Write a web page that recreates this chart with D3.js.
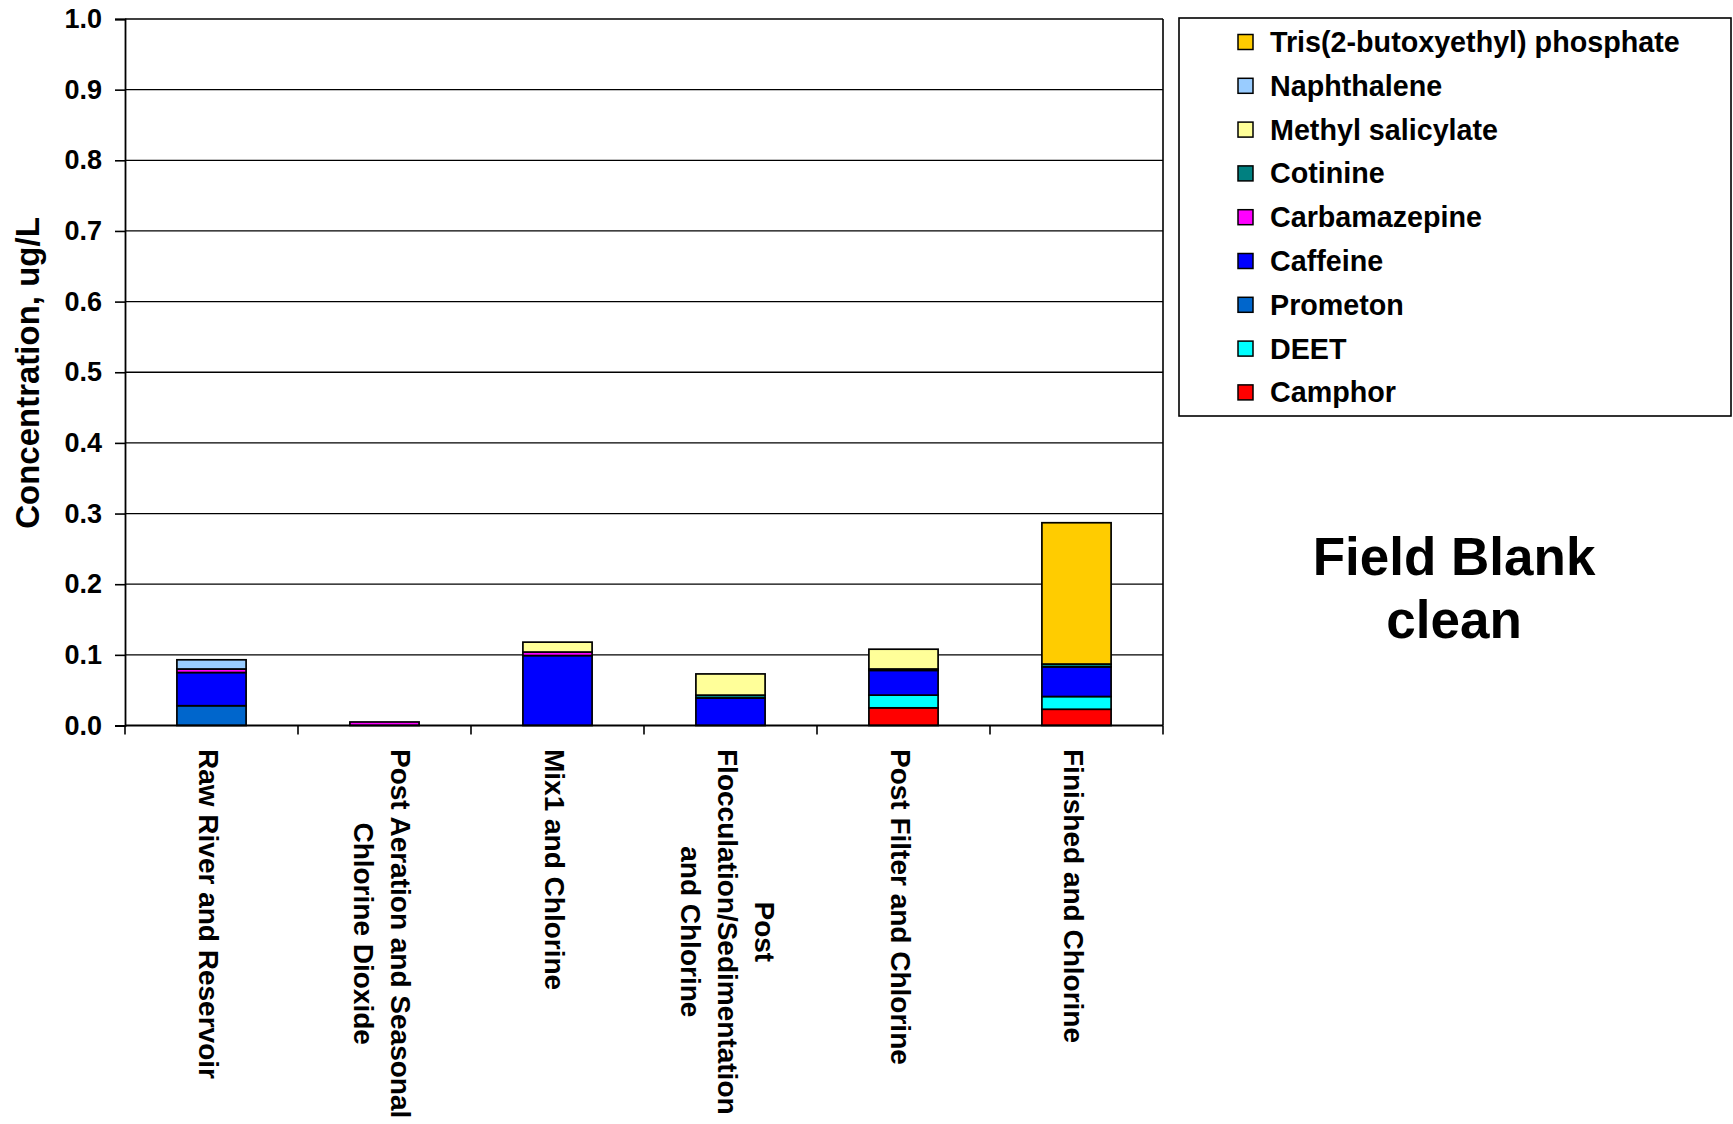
<!DOCTYPE html>
<html>
<head>
<meta charset="utf-8">
<script src="https://d3js.org/d3.v7.min.js"></script>
<style>
  html, body { margin: 0; padding: 0; background: #fff; }
  svg { display: block; font-family: "Liberation Sans", Arial, Helvetica, sans-serif; font-weight: bold; }
</style>
</head>
<body>
<svg id="chart" width="1733" height="1124"></svg>
<script>
// Treatment stages (x categories); each label is split into its wrapped lines
const categories = [
  ["Raw River and Reservoir"],
  ["Post Aeration and Seasonal", "Chlorine Dioxide"],
  ["Mix1 and Chlorine"],
  ["Post", "Flocculation/Sedimentation", "and Chlorine"],
  ["Post Filter and Chlorine"],
  ["Finished and Chlorine"]
];

// Concentrations (ug/L) per compound, one value per stage, stacked bottom to top
const camphor          = [0,     0,     0,     0,     0.025, 0.023];
const deet             = [0,     0,     0,     0,     0.018, 0.018];
const prometon         = [0.028, 0,     0,     0,     0,     0];
const caffeine         = [0.047, 0,     0.099, 0.039, 0.035, 0.042];
const carbamazepine    = [0.005, 0.005, 0.005, 0,     0,     0];
const cotinine         = [0,     0,     0,     0.004, 0.002, 0.004];
const methylSalicylate = [0,     0,     0.014, 0.030, 0.028, 0];
const naphthalene      = [0.013, 0,     0,     0,     0,     0];
const tris             = [0,     0,     0,     0,     0,     0.200];

const seriesNames  = ["Camphor", "DEET", "Prometon", "Caffeine", "Carbamazepine",
                      "Cotinine", "Methyl salicylate", "Naphthalene", "Tris(2-butoxyethyl) phosphate"];
const seriesValues = [camphor, deet, prometon, caffeine, carbamazepine,
                      cotinine, methylSalicylate, naphthalene, tris];
const seriesColors = ["#FF0000", "#00FFFF", "#0066CC", "#0000FF", "#FF00FF",
                      "#008080", "#FFFF99", "#99CCFF", "#FFCC00"];

const yTicks = [0, 0.1, 0.2, 0.3, 0.4, 0.5, 0.6, 0.7, 0.8, 0.9, 1.0];
const yTitle = "Concentration, ug/L";
const note = ["Field Blank", "clean"];

// ---- layout ----
const svg = d3.select("#chart");
const plot = { left: 125, right: 1163, top: 19, bottom: 725.5 };

const x = d3.scaleBand()
  .domain(d3.range(categories.length))
  .range([plot.left, plot.right])
  .paddingInner(0.6)
  .paddingOuter(0.3);

const y = d3.scaleLinear().domain([0, 1]).range([plot.bottom, plot.top]);

// table of rows for d3.stack
const rows = categories.map((c, i) => {
  const r = { idx: i };
  seriesNames.forEach((n, k) => { r[n] = seriesValues[k][i]; });
  return r;
});
const stacked = d3.stack().keys(seriesNames)(rows);

// ---- gridlines ----
svg.append("g")
  .selectAll("line")
  .data(yTicks.filter(t => t > 0))
  .join("line")
  .attr("x1", plot.left).attr("x2", plot.right)
  .attr("y1", d => y(d)).attr("y2", d => y(d))
  .attr("stroke", "#000").attr("stroke-width", 1.3);

// right border of plot area
svg.append("line")
  .attr("x1", plot.right).attr("x2", plot.right)
  .attr("y1", plot.top).attr("y2", plot.bottom)
  .attr("stroke", "#000").attr("stroke-width", 1.6);

// ---- stacked bars ----
const barG = svg.append("g");
stacked.forEach((layer, k) => {
  barG.append("g")
    .selectAll("rect")
    .data(layer.filter(d => d[1] - d[0] > 0))
    .join("rect")
    .attr("x", d => x(d.data.idx))
    .attr("width", x.bandwidth())
    .attr("y", d => y(d[1]))
    .attr("height", d => y(d[0]) - y(d[1]))
    .attr("fill", seriesColors[k])
    .attr("stroke", "#000")
    .attr("stroke-width", 1.7);
});

// ---- y axis ----
const yAxis = d3.axisLeft(y)
  .tickValues(yTicks)
  .tickFormat(d3.format(".1f"))
  .tickSize(10)
  .tickPadding(13);
const yG = svg.append("g")
  .attr("transform", `translate(${plot.left},0)`)
  .call(yAxis);
yG.select(".domain").attr("stroke", "#000").attr("stroke-width", 1.8);
yG.selectAll(".tick line").attr("stroke", "#000").attr("stroke-width", 1.6);
yG.selectAll(".tick text")
  .attr("fill", "#000")
  .style("font-size", "27px")
  .style("font-weight", "bold")
  .style("font-family", "'Liberation Sans', Arial, sans-serif");

// ---- x axis baseline with ticks at category boundaries ----
svg.append("line")
  .attr("x1", plot.left).attr("x2", plot.right)
  .attr("y1", plot.bottom).attr("y2", plot.bottom)
  .attr("stroke", "#000").attr("stroke-width", 1.8);

const step = x.step();
const boundaries = d3.range(categories.length + 1)
  .map(i => i < categories.length ? x(i) - x.paddingInner() * step / 2 : plot.right);
boundaries[0] = plot.left;
svg.append("g")
  .selectAll("line")
  .data(boundaries)
  .join("line")
  .attr("x1", d => d).attr("x2", d => d)
  .attr("y1", plot.bottom).attr("y2", plot.bottom + 9)
  .attr("stroke", "#000").attr("stroke-width", 1.6);

// ---- rotated category labels ----
const lineGap = 37;
const labelTop = 749;
const labG = svg.append("g").style("font-size", "28px").attr("fill", "#000");
categories.forEach((lines, i) => {
  const cx = x(i) + x.bandwidth() / 2 - 3;
  // measure longest line to center lines along the block
  const tmp = labG.append("text").attr("visibility", "hidden");
  let maxLen = 0;
  lines.forEach(l => { tmp.text(l); maxLen = Math.max(maxLen, tmp.node().getComputedTextLength()); });
  tmp.remove();
  const n = lines.length;
  lines.forEach((l, j) => {
    const lx = cx + ((n - 1) / 2 - j) * lineGap;
    labG.append("text")
      .attr("transform", `translate(${lx},${labelTop + maxLen / 2}) rotate(90)`)
      .attr("text-anchor", "middle")
      .attr("dominant-baseline", "central")
      .text(l);
  });
});

// ---- y axis title ----
svg.append("text")
  .attr("transform", `translate(27,373) rotate(-90)`)
  .attr("text-anchor", "middle")
  .attr("dominant-baseline", "central")
  .style("font-size", "33px")
  .attr("fill", "#000")
  .text(yTitle);

// ---- legend ----
const legend = { x: 1179, y: 18, w: 552, h: 398 };
svg.append("rect")
  .attr("x", legend.x).attr("y", legend.y)
  .attr("width", legend.w).attr("height", legend.h)
  .attr("fill", "#fff").attr("stroke", "#000").attr("stroke-width", 1.6);

const legendOrder = d3.range(seriesNames.length).reverse();
const legG = svg.append("g");
legendOrder.forEach((k, i) => {
  const cy = 42 + i * 43.8;
  legG.append("rect")
    .attr("x", 1238).attr("y", cy - 7.5)
    .attr("width", 15).attr("height", 15)
    .attr("fill", seriesColors[k])
    .attr("stroke", "#000").attr("stroke-width", 1.5);
  legG.append("text")
    .attr("x", 1270).attr("y", cy)
    .attr("dominant-baseline", "central")
    .style("font-size", "28.7px")
    .attr("fill", "#000")
    .text(seriesNames[k]);
});

// ---- annotation ----
const noteG = svg.append("g").style("font-size", "53px").attr("fill", "#000");
note.forEach((t, i) => {
  noteG.append("text")
    .attr("x", 1454).attr("y", 575 + i * 63)
    .attr("text-anchor", "middle")
    .text(t);
});
</script>
</body>
</html>
